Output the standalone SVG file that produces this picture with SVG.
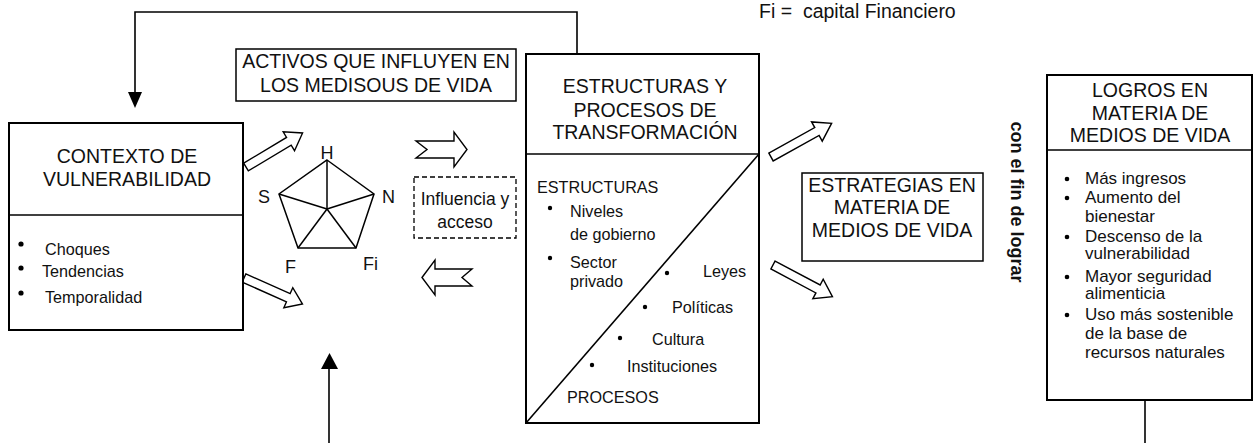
<svg xmlns="http://www.w3.org/2000/svg" width="1254" height="443" viewBox="0 0 1254 443">
<defs>
<style>
text{font-family:"Liberation Sans",Arial,sans-serif;fill:#111}
.t{font-size:19.5px;text-anchor:middle}
.s{font-size:16.2px}
.l{font-size:17px}
.box{fill:#fff;stroke:#000;stroke-width:2}
.thin{fill:none;stroke:#000;stroke-width:1.5}
.ln{fill:none;stroke:#000;stroke-width:1.6}
.hollow{fill:#fff;stroke:#000;stroke-width:1.4;stroke-linejoin:miter}
</style>
<polygon id="harrow" points="0,-4.5 50,-4.5 50,-11 66,0 50,11 50,4.5 0,4.5"/>
</defs>

<g id="connectors">
<polyline class="ln" points="577,60 577,12 135,12 135,92" stroke="#333"/>
<polygon points="128,92 142,92 135,108" fill="#000"/>
<line class="ln" x1="329" y1="443" x2="329" y2="368" stroke-width="2"/>
<polygon points="321,369 338,369 329.5,353" fill="#000"/>
<line class="ln" x1="1145" y1="400" x2="1145" y2="443" stroke-width="2"/>
<use href="#harrow" class="hollow" transform="translate(246,167) rotate(-31)"/>
<use href="#harrow" class="hollow" transform="translate(244,278) rotate(24) scale(0.97,1)"/>
<use href="#harrow" class="hollow" transform="translate(771,157) rotate(-29) scale(1.05,1)"/>
<use href="#harrow" class="hollow" transform="translate(773,265) rotate(28) scale(1.02,1)"/>
<polygon class="hollow" points="416,141 454,141 454,132 467,149.5 454,167 454,158 416,158 427,149.5"/>
<polygon class="hollow" points="422,277.5 435,260 435,269 472,269 462,277.5 472,286 435,286 435,295"/>
</g>

<g id="fi-note">
<text x="759" y="18" font-size="19.5" xml:space="preserve">Fi =  capital Financiero</text>
</g>

<g id="contexto">
<rect class="box" x="9" y="123" width="234" height="207"/>
<line class="ln" x1="9" y1="215" x2="243" y2="215" stroke-width="2"/>
<text class="t" x="127" y="163">CONTEXTO DE</text>
<text class="t" x="127" y="186">VULNERABILIDAD</text>
<circle cx="21" cy="244" r="2.6" fill="#000"/>
<circle cx="21" cy="268" r="2.6" fill="#000"/>
<circle cx="21" cy="293" r="2.6" fill="#000"/>
<text class="s" x="45" y="255">Choques</text>
<text class="s" x="42" y="277">Tendencias</text>
<text class="s" x="45" y="303">Temporalidad</text>
</g>

<g id="activos">
<rect class="thin" x="236" y="49" width="280" height="52" fill="#fff"/>
<text class="t" x="376" y="68">ACTIVOS QUE INFLUYEN EN</text>
<text class="t" x="376" y="92">LOS MEDISOUS DE VIDA</text>
</g>

<g id="pentagono">
<polygon class="thin" points="327,160 374,194 356,248 298,248 279,194"/>
<g class="thin">
<line x1="327" y1="209" x2="327" y2="160"/>
<line x1="327" y1="209" x2="374" y2="194"/>
<line x1="327" y1="209" x2="356" y2="248"/>
<line x1="327" y1="209" x2="298" y2="248"/>
<line x1="327" y1="209" x2="279" y2="194"/>
</g>
<text x="327" y="159" font-size="18" text-anchor="middle">H</text>
<text x="258" y="203" font-size="18">S</text>
<text x="382" y="203" font-size="18">N</text>
<text x="285" y="273" font-size="18">F</text>
<text x="363" y="270" font-size="18">Fi</text>
</g>

<g id="influencia">
<rect x="414" y="177" width="102" height="61" fill="#fff" stroke="#000" stroke-width="1.3" stroke-dasharray="5,3"/>
<text x="465" y="205" font-size="17.5" text-anchor="middle">Influencia y</text>
<text x="465" y="228" font-size="17.5" text-anchor="middle">acceso</text>
</g>

<g id="estructuras">
<rect class="box" x="526" y="54" width="233" height="369"/>
<line class="ln" x1="526" y1="154" x2="759" y2="154" stroke-width="2"/>
<line class="ln" x1="526" y1="423" x2="759" y2="154" stroke-width="2"/>
<text class="t" x="645" y="93">ESTRUCTURAS Y</text>
<text class="t" x="645" y="117">PROCESOS DE</text>
<text class="t" x="645" y="139">TRANSFORMACIÓN</text>
<text class="s" x="537" y="193">ESTRUCTURAS</text>
<circle cx="550" cy="208" r="2.2" fill="#000"/>
<text class="s" x="570" y="217">Niveles</text>
<text class="s" x="570" y="240">de gobierno</text>
<circle cx="550" cy="258" r="2.2" fill="#000"/>
<text class="s" x="570" y="268">Sector</text>
<text class="s" x="570" y="287">privado</text>
<circle cx="667" cy="273" r="2.2" fill="#000"/>
<text class="s" x="703" y="277">Leyes</text>
<circle cx="645" cy="307" r="2.2" fill="#000"/>
<text class="s" x="672" y="313">Políticas</text>
<circle cx="620" cy="338" r="2.2" fill="#000"/>
<text class="s" x="652" y="345">Cultura</text>
<circle cx="592" cy="365" r="2.2" fill="#000"/>
<text class="s" x="627" y="372">Instituciones</text>
<text class="s" x="567" y="403">PROCESOS</text>
</g>

<g id="estrategias">
<rect class="thin" x="802" y="173" width="181" height="88" fill="#fff"/>
<text class="t" x="892" y="192">ESTRATEGIAS EN</text>
<text class="t" x="892" y="214">MATERIA DE</text>
<text class="t" x="892" y="237">MEDIOS DE VIDA</text>
</g>

<g id="con-el-fin">
<text x="0" y="0" font-size="18" font-weight="bold" text-anchor="middle" transform="translate(1011,202) rotate(90)">con el fin de lograr</text>
</g>

<g id="logros">
<rect class="box" x="1047" y="75" width="205" height="325"/>
<line class="ln" x1="1047" y1="150" x2="1252" y2="150" stroke-width="1.5"/>
<text class="t" x="1150" y="97">LOGROS EN</text>
<text class="t" x="1150" y="120">MATERIA DE</text>
<text class="t" x="1150" y="142">MEDIOS DE VIDA</text>
<circle cx="1067" cy="179" r="2.3" fill="#000"/>
<circle cx="1067" cy="198" r="2.3" fill="#000"/>
<circle cx="1067" cy="237" r="2.3" fill="#000"/>
<circle cx="1067" cy="277" r="2.3" fill="#000"/>
<circle cx="1067" cy="315" r="2.3" fill="#000"/>
<text class="l" x="1085" y="184">Más ingresos</text>
<text class="l" x="1085" y="203">Aumento del</text>
<text class="l" x="1085" y="222">bienestar</text>
<text class="l" x="1085" y="242">Descenso de la</text>
<text class="l" x="1085" y="259">vulnerabilidad</text>
<text class="l" x="1085" y="282">Mayor seguridad</text>
<text class="l" x="1085" y="299">alimenticia</text>
<text class="l" x="1085" y="320">Uso más sostenible</text>
<text class="l" x="1085" y="339">de la base de</text>
<text class="l" x="1085" y="358">recursos naturales</text>
</g>
</svg>
